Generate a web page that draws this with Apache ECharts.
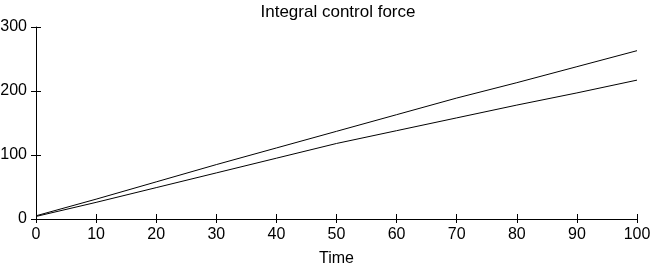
<!DOCTYPE html>
<html><head><meta charset="utf-8">
<script src="https://cdn.jsdelivr.net/npm/echarts@6/dist/echarts.min.js"></script>
<style>html,body{margin:0;padding:0;background:#fff}#c{width:651px;height:265px}</style>
</head><body><div id="c"></div>
<script>
const timeValues = [0,10,20,30,40,50,60,70,80,90,100];
const upperForce = [5,31,58,85,111,137,163,189,213,238,263];
const lowerForce = [4,26,49,72,95,118,138,158,178,197,217];
const xTicks = [0,10,20,30,40,50,60,70,80,90,100];
const yTicks = [0,100,200,300];

const chart = echarts.init(document.getElementById('c'));
const font = 'Liberation Sans, Arial, sans-serif';
const axisCommon = {
  axisLine:{show:true,lineStyle:{color:'#000',width:1}},
  axisTick:{show:true,inside:true,length:5,lineStyle:{color:'#000'}},
  splitLine:{show:false}
};
chart.setOption({
  animation:false,
  title:{text:'Integral control force',left:333,top:-1,textAlign:'center',
    textStyle:{fontFamily:font,fontSize:17,fontWeight:'normal',color:'#000'}},
  grid:{left:36,right:14,top:27,bottom:46,containLabel:false,outerBoundsMode:'none'},
  xAxis:[
    Object.assign({type:'value',min:0,max:100,interval:10,position:'bottom',
      name:'Time',nameLocation:'middle',nameGap:32,
      nameTextStyle:{fontFamily:font,fontSize:16,color:'#000',verticalAlign:'top'},
      axisLabel:{fontFamily:font,fontSize:16,color:'#000',margin:8}},axisCommon),
    Object.assign({type:'value',min:0,max:100,interval:10,position:'top',
      axisLabel:{show:false}},axisCommon,{axisTick:{show:true,inside:true,length:4,lineStyle:{color:'#000'}}})
  ],
  yAxis:[
    Object.assign({type:'value',min:0,max:300,interval:100,position:'left',
      axisLabel:{fontFamily:font,fontSize:16,color:'#000',margin:9}},axisCommon,
      {axisLine:{show:false}}),
    Object.assign({type:'value',min:0,max:300,interval:100,position:'right',
      axisLabel:{show:false}},axisCommon)
  ],
  series:[
    {type:'line',data:timeValues.map((t,i)=>[t,upperForce[i]]),symbol:'none',
      lineStyle:{color:'#000',width:1}},
    {type:'line',data:timeValues.map((t,i)=>[t,lowerForce[i]]),symbol:'none',
      lineStyle:{color:'#000',width:1}}
  ]
});
</script></body></html>
